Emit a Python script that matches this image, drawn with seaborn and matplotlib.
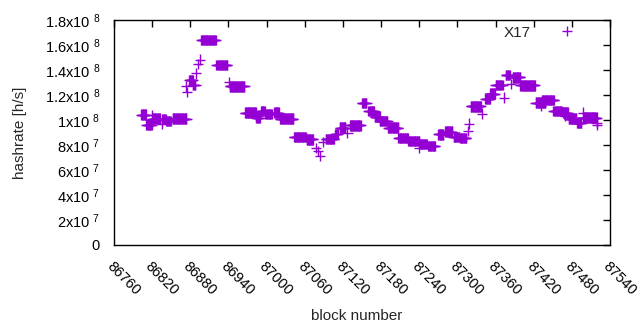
import numpy as np
import pandas as pd
import seaborn as sns
import matplotlib
matplotlib.use("Agg")
import matplotlib.pyplot as plt
from matplotlib.ticker import FuncFormatter, MultipleLocator

# --- Data (hashrate in units of 1e8 h/s) ---
# runs of consecutive blocks sharing one hashrate value
run_start = [86803, 86811, 86820, 86836, 86842, 86852, 86859, 86878, 86884, 86897,
             86921, 86942, 86966, 86984, 86991, 86998, 87012, 87021, 87043, 87063,
             87093, 87108, 87115, 87131, 87150, 87160, 87170, 87178, 87191, 87207,
             87223, 87241, 87254, 87270, 87281, 87294, 87304, 87321, 87344, 87352,
             87360, 87376, 87387, 87399, 87423, 87433, 87451, 87466, 87475, 87488,
             87498]
run_end = [86810, 86819, 86832, 86841, 86849, 86858, 86874, 86884, 86888, 86920,
           86938, 86965, 86983, 86989, 86997, 87008, 87019, 87042, 87062, 87073,
           87106, 87112, 87124, 87148, 87157, 87169, 87178, 87190, 87207, 87222,
           87240, 87252, 87265, 87278, 87292, 87303, 87314, 87337, 87351, 87359,
           87371, 87382, 87399, 87422, 87438, 87452, 87464, 87474, 87487, 87495,
           87519]
run_value = [1.043, 0.963, 1.011, 1.006, 0.992, 1.011, 1.011, 1.317, 1.279, 1.639,
             1.438, 1.269, 1.060, 1.019, 1.072, 1.046, 1.060, 1.011, 0.866, 0.845,
             0.850, 0.890, 0.939, 0.957, 1.134, 1.072, 1.027, 0.992, 0.939, 0.858,
             0.831, 0.810, 0.791, 0.885, 0.907, 0.866, 0.858, 1.108, 1.172, 1.212,
             1.279, 1.360, 1.341, 1.277, 1.140, 1.158, 1.072, 1.060, 1.011, 0.979,
             1.019]

# single scattered blocks
single_block = [86819, 86835, 86875, 86874, 86889, 86892, 86895, 86941, 86984, 87078,
                87081, 87084, 87089, 87127, 87240, 87317, 87318, 87339, 87373, 87384,
                87431, 87469, 87498, 87519, 87520]
single_value = [1.038, 0.971, 1.225, 1.269, 1.373, 1.448, 1.483, 1.301, 1.032, 0.778,
                0.751, 0.711, 0.826, 0.899, 0.778, 0.911, 0.971, 1.051, 1.180, 1.287,
                1.113, 1.032, 1.060, 0.979, 0.960]

blocks, rates = [], []
for s, e, v in zip(run_start, run_end, run_value):
    for b in range(s, e + 1):
        blocks.append(b)
        rates.append(v * 1e8)
blocks += single_block
rates += [v * 1e8 for v in single_value]
df = pd.DataFrame({"block": blocks, "hashrate": rates, "series": "X17"})

# --- Style ---
sns.set_style("white")
plt.rcParams["font.family"] = ["Liberation Sans", "DejaVu Sans"]
plt.rcParams["mathtext.fontset"] = "custom"
plt.rcParams["mathtext.rm"] = "Liberation Sans"
plt.rcParams["mathtext.it"] = "Liberation Sans:italic"

fig = plt.figure(figsize=(6.4, 3.3), dpi=100)
ax = fig.add_axes([114 / 640, 1 - 245 / 330, 496 / 640, 225 / 330])

sns.scatterplot(data=df, x="block", y="hashrate", hue="series",
                palette=["#9400d3"], marker="+", s=55, linewidth=1.0, ax=ax)

ax.set_xlim(86760, 87540)
ax.set_ylim(0, 1.8e8)
ax.xaxis.set_major_locator(MultipleLocator(60))
ax.yaxis.set_major_locator(MultipleLocator(2e7))


def sci_fmt(v, pos):
    if v <= 0:
        return "0"
    e = int(np.floor(np.log10(v) + 1e-9))
    m = v / 10 ** e
    return f"{m:g}x10 $^{{{e}}}$"


ax.yaxis.set_major_formatter(FuncFormatter(sci_fmt))
ax.xaxis.set_major_formatter(FuncFormatter(lambda v, p: f"{int(round(v))}"))

ax.tick_params(direction="in", length=5, width=1, top=True, right=True,
               labelsize=10.5, colors="black")
ax.tick_params(axis="y", pad=10)
ax.tick_params(axis="x", pad=10)
for lab in ax.get_xticklabels():
    lab.set_rotation(-45)
    lab.set_ha("left")
    lab.set_va("top")
    lab.set_rotation_mode("anchor")
for sp in ax.spines.values():
    sp.set_color("black")
    sp.set_linewidth(1)

ax.set_xlabel("block number", fontsize=11)
ax.set_ylabel("hashrate [h/s]", fontsize=11)
ax.xaxis.set_label_coords(0.49, -0.285)
ax.yaxis.set_label_coords(-0.175, 0.5)

leg = ax.legend(loc="upper right", frameon=False, markerfirst=False,
                fontsize=11, handletextpad=1.35, borderaxespad=0.3,
                bbox_to_anchor=(0.965, 1.022))
leg.set_title(None)

fig.savefig("out.png", dpi=100)
